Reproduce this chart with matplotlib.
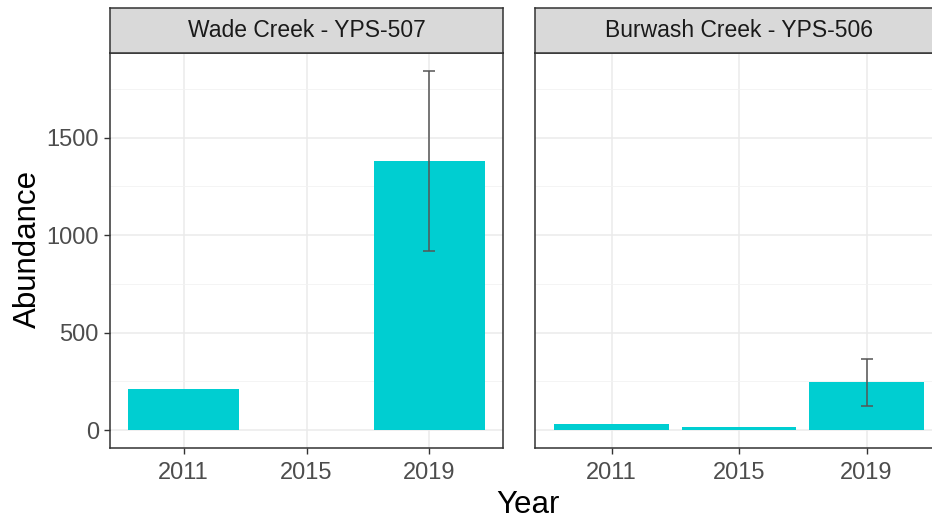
import numpy as np
import matplotlib
matplotlib.use("Agg")
from matplotlib import pyplot as plt

plt.rcParams['font.family'] = ['Liberation Sans', 'DejaVu Sans']

years = ["2011", "2015", "2019"]
sites = ["Wade Creek - YPS-507", "Burwash Creek - YPS-506"]

# mean abundance per year (nan = not sampled)
wade_mean = [210, np.nan, 1380]
wade_lo = [np.nan, np.nan, 918]
wade_hi = [np.nan, np.nan, 1842]

burwash_mean = [30, 14, 244]
burwash_lo = [np.nan, np.nan, 124]
burwash_hi = [np.nan, np.nan, 362]

means = [wade_mean, burwash_mean]
lows = [wade_lo, burwash_lo]
highs = [wade_hi, burwash_hi]

BAR_COLOR = "#00CED1"
W, H = 932, 521

fig = plt.figure(figsize=(W / 100, H / 100), dpi=100)

# panel boxes in pixels: (left, right), shared top/bottom
# second panel runs past the right edge of the canvas
panel_x = [(110, 503), (535, 943)]
p_top, p_bot = 53, 448
s_top = 8

ymax = np.nanmax(wade_hi + burwash_hi)
ymin = 0
pad = 0.05 * (ymax - ymin)

for i, (x0, x1) in enumerate(panel_x):
    ax = fig.add_axes([x0 / W, 1 - p_bot / H, (x1 - x0) / W, (p_bot - p_top) / H])
    pos = np.arange(len(years))
    ax.bar(pos, means[i], width=0.9, color=BAR_COLOR, zorder=2)
    m = np.array(means[i], dtype=float)
    lo = np.array(lows[i], dtype=float)
    hi = np.array(highs[i], dtype=float)
    ok = ~np.isnan(lo)
    ax.errorbar(pos[ok], m[ok], yerr=[m[ok] - lo[ok], hi[ok] - m[ok]], fmt='none',
                ecolor="#555555", elinewidth=1.1, capsize=4.5, capthick=1.1, zorder=3)

    ax.set_xlim(-0.6, len(years) - 0.4)
    ax.set_ylim(ymin - pad, ymax + pad)
    ax.set_xticks(pos)
    ax.set_xticklabels(years)
    ax.set_yticks([0, 500, 1000, 1500])
    ax.set_yticks([250, 750, 1250, 1750], minor=True)
    ax.grid(True, which='major', color="#EBEBEB", linewidth=1.1, zorder=0)
    ax.grid(True, which='minor', axis='y', color="#F2F2F2", linewidth=0.6, zorder=0)
    ax.set_axisbelow(True)
    for s in ax.spines.values():
        s.set_color("#333333")
        s.set_linewidth(1.1)
    ax.tick_params(axis='both', which='major', length=4, width=1.0, color="#333333",
                   labelsize=17, labelcolor="#4D4D4D", pad=4)
    ax.tick_params(axis='x', which='major', pad=6)
    ax.tick_params(axis='y', which='minor', length=0)
    if i > 0:
        ax.tick_params(axis='y', which='major', length=0, labelleft=False)

    # facet strip
    sax = fig.add_axes([x0 / W, 1 - p_top / H, (x1 - x0) / W, (p_top - s_top) / H])
    sax.set_facecolor("#D9D9D9")
    sax.set_xticks([])
    sax.set_yticks([])
    for s in sax.spines.values():
        s.set_color("#333333")
        s.set_linewidth(1.1)
    sax.text(0.5, 0.5, sites[i], ha='center', va='center', fontsize=16.5,
             color="#1A1A1A", transform=sax.transAxes)

fig.text(528 / W, 1 - 505 / H, "Year", ha='center', va='center', fontsize=22.5)
fig.text(28 / W, 1 - 249 / H, "Abundance", ha='center', va='center', fontsize=22.5,
         rotation=90)

fig.savefig("out.png", dpi=100)
